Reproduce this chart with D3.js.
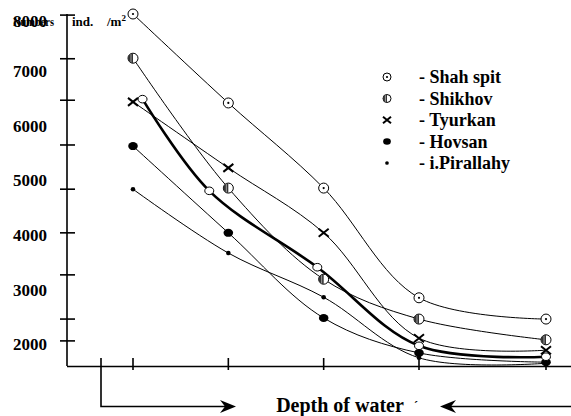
<!DOCTYPE html>
<html>
<head>
<meta charset="utf-8">
<script src="https://cdn.jsdelivr.net/npm/d3@7"></script>
<style>
  body { margin: 0; background: #fff; }
  svg { display: block; font-family: "Liberation Serif", "Times New Roman", serif; font-weight: bold; }
</style>
</head>
<body>
<div id="chart"></div>
<script>
var width = 571,
    height = 416;

// depth of water (m) and numbers ind./m2
var depths = [0.5, 2, 3.5, 5, 10];
var shahSpit = [8050, 6420, 4860, 2850, 2460];
var shikhov = [7240, 4860, 3190, 2460, 2080];
var tyurkan = [6440, 5230, 4040, 2110, 1890];
var hovsan = [5630, 4040, 2480, 1840, 1670];
var pirallahy = [4840, 3670, 2860, 1750, 1650];
// thick curve with open circles (not in legend)
var meanDepths = [0.65, 1.7, 3.4, 5, 10];
var meanValues = [6490, 4810, 3410, 1970, 1770];

var yLabels = [8000, 7000, 6000, 5000, 4000, 3000, 2000];
var yTicks = [8030, 7230, 6470, 5650, 4840, 4040, 3270, 2460, 2060];
var legendNames = ["- Shah spit", "- Shikhov", "- Tyurkan", "- Hovsan", "- i.Pirallahy"];
var legendKeys = ["shah", "shikhov", "tyurkan", "hovsan", "pirallahy"];

var svg = d3.select("#chart")
    .append("svg")
    .attr("width", width)
    .attr("height", height);

svg.append("rect").attr("width", width).attr("height", height).attr("fill", "#fff");

var x = d3.scaleLinear().domain([0.5, 5, 10]).range([133, 419, 546]);
var y = d3.scaleLinear().domain([1600, 8050]).range([366, 14]);
var x0 = 67;

// title, the first word sits under the 8000 label as in the scan
var title = svg.append("text")
    .attr("y", 26)
    .style("font-size", "13px");
title.append("tspan").attr("x", 13).attr("textLength", 41).attr("lengthAdjust", "spacingAndGlyphs").text("Numbers");
title.append("tspan").attr("x", 72).text("ind.");
title.append("tspan").attr("x", 107).text("/m");
title.append("tspan").attr("dy", -5).style("font-size", "9px").text("2");

// y axis
svg.append("line")
    .attr("x1", x0).attr("x2", x0)
    .attr("y1", y.range()[1]).attr("y2", y.range()[0])
    .attr("stroke", "#000").attr("stroke-width", 1.6);

svg.selectAll(".ytick")
    .data(yTicks)
    .enter().append("line")
    .attr("class", "ytick")
    .attr("x1", x0 - 7).attr("x2", x0 + 8)
    .attr("y1", function(d) { return y(d); })
    .attr("y2", function(d) { return y(d); })
    .attr("stroke", "#000").attr("stroke-width", 1.6);

svg.selectAll(".ylab")
    .data(yLabels)
    .enter().append("text")
    .attr("class", "ylab")
    .attr("x", 47)
    .attr("y", function(d) { return y(d); })
    .attr("dy", function(d, i) { return i === 0 ? "0.6em" : "0.35em"; })
    .attr("text-anchor", "end")
    .style("font-size", "17px")
    .text(function(d) { return d; });

// x axis
svg.append("line")
    .attr("x1", x0).attr("x2", width)
    .attr("y1", 366.5).attr("y2", 366.5)
    .attr("stroke", "#000").attr("stroke-width", 1.6);

svg.selectAll(".xtick")
    .data(depths)
    .enter().append("line")
    .attr("class", "xtick")
    .attr("x1", function(d) { return x(d); })
    .attr("x2", function(d) { return x(d); })
    .attr("y1", 358).attr("y2", 370)
    .attr("stroke", "#000").attr("stroke-width", 1.6);

// depth bracket and arrows
svg.append("path")
    .attr("d", "M101,358V406.5H232")
    .attr("fill", "none").attr("stroke", "#000").attr("stroke-width", 1.6);
svg.append("path")
    .attr("d", "M220,400L236,406.5L220,413L225,406.5Z")
    .attr("fill", "#000");
svg.append("path")
    .attr("d", "M444,406.5H571")
    .attr("fill", "none").attr("stroke", "#000").attr("stroke-width", 1.6);
svg.append("path")
    .attr("d", "M456,400L440,406.5L456,413L451,406.5Z")
    .attr("fill", "#000");

svg.append("text")
    .attr("x", 340).attr("y", 412)
    .attr("text-anchor", "middle")
    .style("font-size", "20px")
    .text("Depth of water");
svg.append("text")
    .attr("x", 414).attr("y", 410)
    .style("font-size", "12px")
    .text("´");

// lines
var line = d3.line()
    .x(function(d) { return x(d[0]); })
    .y(function(d) { return y(d[1]); })
    .curve(d3.curveCatmullRom.alpha(0.5));

var series = [
    { key: "shah", values: d3.zip(depths, shahSpit), w: 1 },
    { key: "shikhov", values: d3.zip(depths, shikhov), w: 1 },
    { key: "tyurkan", values: d3.zip(depths, tyurkan), w: 1 },
    { key: "hovsan", values: d3.zip(depths, hovsan), w: 1 },
    { key: "pirallahy", values: d3.zip(depths, pirallahy), w: 1 },
    { key: "mean", values: d3.zip(meanDepths, meanValues), w: 2.6 }
];

svg.selectAll(".series")
    .data(series)
    .enter().append("path")
    .attr("class", "series")
    .attr("d", function(d) { return line(d.values); })
    .attr("fill", "none")
    .attr("stroke", "#000")
    .attr("stroke-width", function(d) { return d.w; });

function marker(g, key, s) {
    if (key === "shah") {
        g.append("circle").attr("r", 5 * s).attr("fill", "#fff").attr("stroke", "#000").attr("stroke-width", 1);
        g.append("circle").attr("r", 1.1).attr("fill", "#000");
    } else if (key === "shikhov") {
        g.append("circle").attr("r", 5 * s).attr("fill", "#fff").attr("stroke", "#000").attr("stroke-width", 1);
        g.append("path")
            .attr("d", d3.arc()({ innerRadius: 0, outerRadius: 5 * s, startAngle: Math.PI, endAngle: 2 * Math.PI }))
            .attr("fill", "#333");
        g.append("line").attr("x1", -2 * s).attr("x2", -2 * s).attr("y1", -4 * s).attr("y2", 4 * s)
            .attr("stroke", "#bbb").attr("stroke-width", 0.8);
    } else if (key === "tyurkan") {
        g.append("path")
            .attr("d", "M" + (-5 * s) + "," + (-4 * s) + "L" + (5 * s) + "," + (4 * s) +
                       "M" + (-5 * s) + "," + (4 * s) + "L" + (5 * s) + "," + (-4 * s))
            .attr("stroke", "#000").attr("stroke-width", 2);
    } else if (key === "hovsan") {
        g.append("ellipse").attr("rx", 4.8 * s).attr("ry", 4 * s).attr("fill", "#000");
    } else if (key === "pirallahy") {
        g.append("circle").attr("r", 2.3 * s).attr("fill", "#000");
    } else {
        g.append("ellipse").attr("rx", 4.5).attr("ry", 3.8).attr("fill", "#fff").attr("stroke", "#000").attr("stroke-width", 1);
    }
}

series.forEach(function(sr) {
    svg.selectAll(".pt-" + sr.key)
        .data(sr.values)
        .enter().append("g")
        .attr("class", "pt-" + sr.key)
        .attr("transform", function(d) { return "translate(" + x(d[0]) + "," + y(d[1]) + ")"; })
        .each(function() { marker(d3.select(this), sr.key, 1); });
});

// legend
var legend = svg.selectAll(".legend")
    .data(legendNames)
    .enter().append("g")
    .attr("class", "legend")
    .attr("transform", function(d, i) { return "translate(387," + (77 + i * 21.5) + ")"; });

legend.each(function(d, i) { marker(d3.select(this), legendKeys[i], 0.8); });

legend.append("text")
    .attr("x", 32)
    .attr("dy", "0.35em")
    .style("font-size", "18px")
    .text(function(d) { return d; });
</script>
</body>
</html>
